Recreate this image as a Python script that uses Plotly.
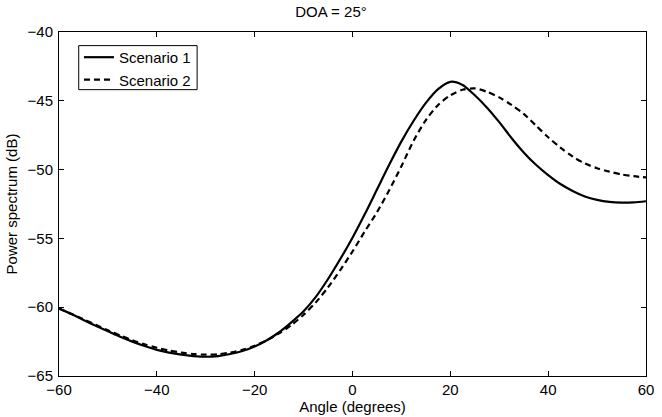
import plotly.graph_objects as go

# angle grid (degrees) and the two power spectra (dB)
angle = [-60, -57.5, -55, -52.5, -50, -47.5, -45, -42.5, -40, -37.5, -35, -32.5,
         -30, -27.5, -25, -22.5, -20, -17.5, -15, -12.5, -10, -7.5, -5, -2.5,
         0, 2.5, 5, 7.5, 10, 12.5, 15, 17.5, 20, 22.5, 25, 27.5, 30, 32.5,
         35, 37.5, 40, 42.5, 45, 47.5, 50, 52.5, 55, 57.5, 60]
scenario1 = [-60.1, -60.5, -60.93, -61.35, -61.75, -62.15, -62.5, -62.82, -63.1,
             -63.3, -63.45, -63.55, -63.6, -63.55, -63.4, -63.18, -62.85, -62.4,
             -61.82, -61.1, -60.3, -59.25, -57.95, -56.5, -54.95, -53.25, -51.45,
             -49.65, -47.95, -46.45, -45.15, -44.15, -43.62, -43.85, -44.6, -45.5,
             -46.55, -47.7, -48.75, -49.65, -50.4, -51.05, -51.55, -51.95, -52.2,
             -52.35, -52.4, -52.38, -52.3]
scenario2 = [-60.1, -60.48, -60.88, -61.28, -61.68, -62.05, -62.4, -62.7, -62.95,
             -63.15, -63.3, -63.4, -63.45, -63.42, -63.3, -63.1, -62.8, -62.4,
             -61.9, -61.3, -60.55, -59.65, -58.55, -57.3, -55.95, -54.5, -53.1,
             -51.5, -49.75, -47.9, -46.4, -45.3, -44.6, -44.2, -44.1, -44.35,
             -44.75, -45.3, -45.95, -46.8, -47.65, -48.4, -49.05, -49.55, -49.9,
             -50.15, -50.35, -50.48, -50.57]

x_ticks = [-60, -40, -20, 0, 20, 40, 60]
y_ticks = [-65, -60, -55, -50, -45, -40]

font = dict(family="Liberation Sans, Arial, sans-serif", size=15, color="black")

fig = go.Figure()
fig.add_trace(go.Scatter(x=angle, y=scenario1, mode="lines", name="Scenario 1",
                         line=dict(color="black", width=2.2, shape="spline", smoothing=0.8)))
fig.add_trace(go.Scatter(x=angle, y=scenario2, mode="lines", name="Scenario 2",
                         line=dict(color="black", width=2.2, dash="6px,4px",
                                   shape="spline", smoothing=0.8)))

axis_style = dict(showgrid=False, zeroline=False, showline=True, linecolor="black",
                  linewidth=1, mirror="ticks", ticks="inside", ticklen=5,
                  tickcolor="black", tickwidth=1, tickfont=font)

fig.update_xaxes(range=[-60, 60], tickvals=x_ticks, ticklabelstandoff=0,
                 title=dict(text="Angle (degrees)", font=font, standoff=0), **axis_style)
fig.update_yaxes(range=[-65, -40], tickvals=y_ticks, ticklabelstandoff=2,
                 title=dict(text="Power spectrum (dB)", font=font, standoff=6), **axis_style)

# matlab-style legend frame, tighter than plotly's own legend border
fig.add_shape(type="rect", xref="paper", yref="paper",
              x0=0.0336, x1=0.2353, y0=0.8324, y1=0.9604,
              line=dict(color="black", width=1), fillcolor="white", layer="above")

fig.update_layout(
    width=662, height=417,
    margin=dict(l=59, r=8, t=32, b=39),
    paper_bgcolor="white", plot_bgcolor="white",
    font=font,
    title=dict(text="DOA = 25°", x=0.5, xanchor="center", y=0.972, yanchor="middle",
               font=font),
    legend=dict(x=0.034, y=0.974, xanchor="left", yanchor="top",
                borderwidth=0, bgcolor="rgba(0,0,0,0)",
                font=font, itemwidth=30, tracegroupgap=0),
    showlegend=True,
)

# page body has an 8px default margin; drop it so the figure sits at the window corner
fig.write_html("out.html", config={"displayModeBar": False},
               post_script="document.body.style.margin='0';")
